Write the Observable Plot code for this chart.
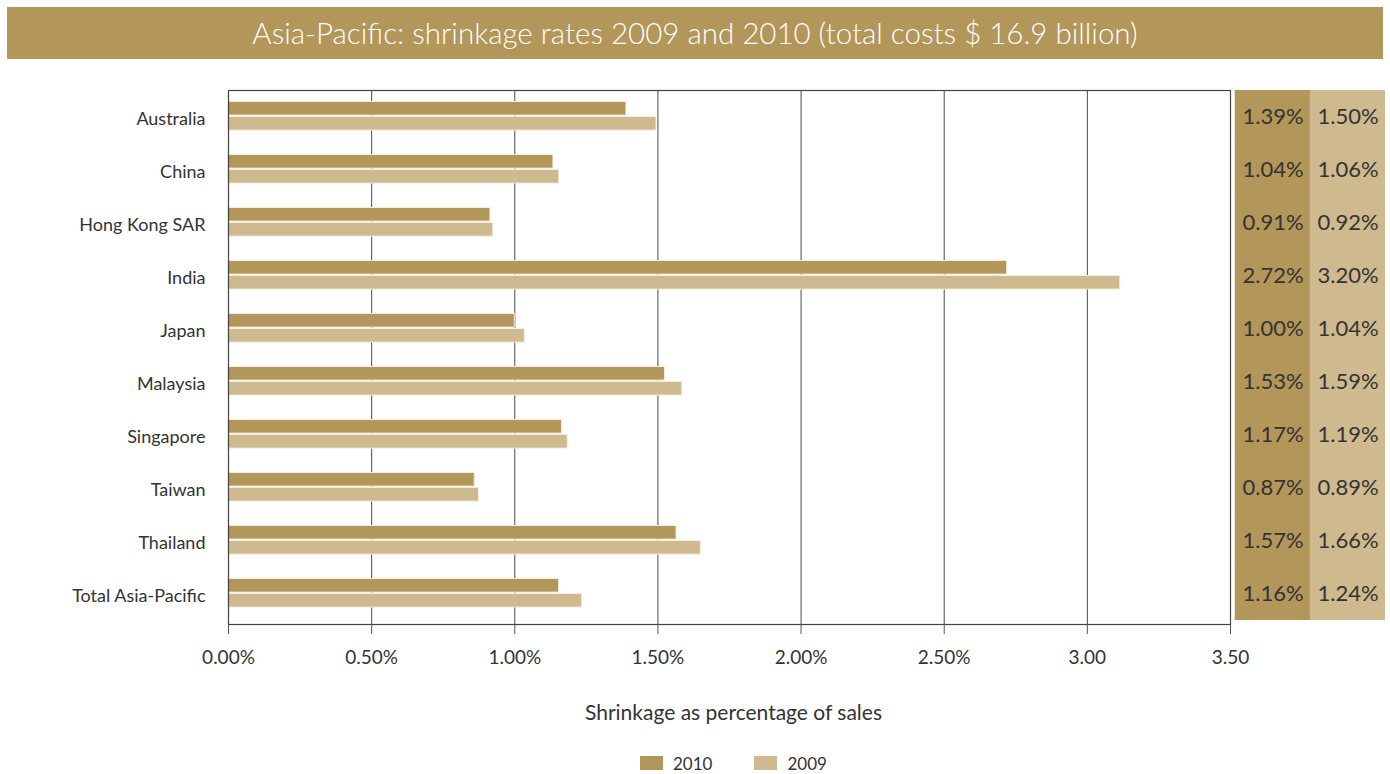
<!DOCTYPE html>
<html>
<head>
<meta charset="utf-8">
<script src="https://cdn.jsdelivr.net/npm/d3@7"></script>
<script src="https://cdn.jsdelivr.net/npm/@observablehq/plot@0.6"></script>
<style>
  html, body { margin: 0; padding: 0; background: #fff; }
  body { width: 1390px; height: 774px; overflow: hidden; font-family: Lato, "Open Sans", sans-serif; color: #333; }
  #title { margin: 7px 7px 0 7px; height: 52px; line-height: 52px; background: #b39659; color: #fff; text-align: center; font-size: 29.5px; font-weight: 300; white-space: nowrap; }
  #row { display: flex; align-items: flex-start; height: 676px; }
  #table { margin-left: 2px; margin-top: 31px; }
  #legend { display: flex; align-items: center; height: 22px; padding-top: 17px; padding-left: 640px; font-size: 17px; }
  .sw { width: 23px; height: 14px; margin-right: 10px; }
  .lt { margin-right: 42px; }
</style>
</head>
<body>
<div id="title"></div>
<div id="row"><div id="main"></div><div id="table"></div></div>
<div id="legend"></div>
<script>
const titleText = "Asia-Pacific: shrinkage rates 2009 and 2010 (total costs $ 16.9 billion)";
const xTitle = "Shrinkage as percentage of sales";
const countries = ["Australia", "China", "Hong Kong SAR", "India", "Japan", "Malaysia", "Singapore", "Taiwan", "Thailand", "Total Asia-Pacific"];
const years = ["2010", "2009"];
const colors = ["#b39659", "#cfb98f"];
// bar lengths as drawn in the reference
const values2010 = [1.39, 1.135, 0.915, 2.72, 1.00, 1.525, 1.165, 0.86, 1.565, 1.155];
const values2009 = [1.495, 1.155, 0.925, 3.115, 1.035, 1.585, 1.185, 0.875, 1.65, 1.235];
// printed values in the side table
const labels2010 = ["1.39%", "1.04%", "0.91%", "2.72%", "1.00%", "1.53%", "1.17%", "0.87%", "1.57%", "1.16%"];
const labels2009 = ["1.50%", "1.06%", "0.92%", "3.20%", "1.04%", "1.59%", "1.19%", "0.89%", "1.66%", "1.24%"];
const xTicks = [0, 0.5, 1, 1.5, 2, 2.5, 3, 3.5];
const xTickLabels = ["0.00%", "0.50%", "1.00%", "1.50%", "2.00%", "2.50%", "3.00", "3.50"];

document.getElementById("title").textContent = titleText;

const rows = countries.map((c, i) => ({country: c, v2010: values2010[i], v2009: values2009[i]}));

const main = Plot.plot({
  width: 1232,
  height: 676,
  marginTop: 31,
  marginBottom: 111,
  marginLeft: 228,
  marginRight: 2,
  x: {domain: [0, 3.5], label: null},
  y: {domain: countries, padding: 0, label: null},
  style: {fontFamily: "Lato, 'Open Sans', sans-serif", fontSize: "18px", color: "#333", overflow: "visible", background: "transparent"},
  marks: [
    Plot.gridX(xTicks, {stroke: "#4a4a4a", strokeOpacity: 1, strokeWidth: 1}),
    Plot.barX(rows, {y: "country", x: "v2010", fill: colors[0], stroke: "#f4eedf", strokeWidth: 1, insetTop: 9.5, insetBottom: 29.9}),
    Plot.barX(rows, {y: "country", x: "v2009", fill: colors[1], stroke: "#f4eedf", strokeWidth: 1, insetTop: 24.5, insetBottom: 14.9}),
    Plot.frame({stroke: "#444", strokeWidth: 1.2}),
    Plot.axisX(xTicks, {tickFormat: d => xTickLabels[xTicks.indexOf(d)], tickSize: 10, tickPadding: 16, fontSize: 19, stroke: "#555", label: null}),
    Plot.axisY({tickSize: 0, tickPadding: 23, fontSize: 18, label: null}),
    Plot.text([xTitle], {text: d => d, frameAnchor: "bottom", dy: 89, dx: 4, fontSize: 21, lineAnchor: "middle", fill: "#333"})
  ]
});
document.getElementById("main").appendChild(main);

const cells = countries.flatMap((c, i) => [
  {country: c, year: years[0], text: labels2010[i]},
  {country: c, year: years[1], text: labels2009[i]}
]);

const table = Plot.plot({
  width: 151,
  height: 530,
  margin: 0,
  x: {domain: years, padding: 0, axis: null},
  y: {domain: countries, padding: 0, axis: null},
  color: {domain: years, range: colors},
  style: {fontFamily: "Lato, 'Open Sans', sans-serif", background: "transparent"},
  marks: [
    Plot.cell(cells, {x: "year", y: "country", fill: "year", stroke: "year", strokeWidth: 0.5, inset: 0}),
    Plot.text(cells, {x: "year", y: "country", text: "text", fontSize: 22, fill: "#333"})
  ]
});
document.getElementById("table").appendChild(table);

const legend = document.getElementById("legend");
years.forEach((y, i) => {
  const sw = document.createElement("div");
  sw.className = "sw";
  sw.style.background = colors[i];
  const t = document.createElement("span");
  t.className = "lt";
  t.textContent = y;
  legend.appendChild(sw);
  legend.appendChild(t);
});
</script>
</body>
</html>
